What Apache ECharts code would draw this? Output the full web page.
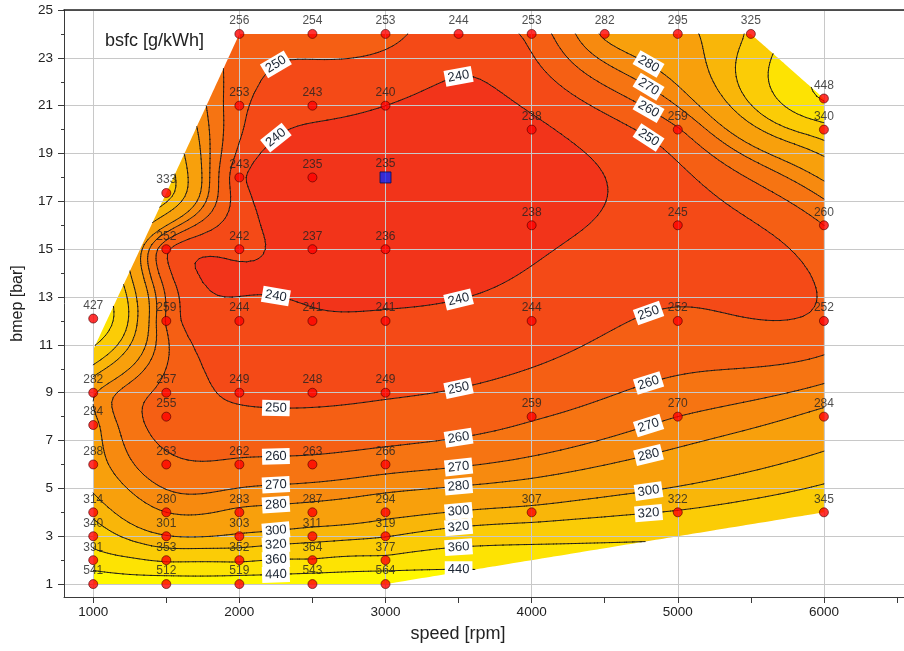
<!DOCTYPE html>
<html><head><meta charset="utf-8">
<script src="https://cdn.jsdelivr.net/npm/echarts@6/dist/echarts.min.js"></script>
<style>html,body{margin:0;padding:0;background:#fff}#c{width:904px;height:651px}</style>
</head><body><div id="c"></div>
<script>
// ---- measured points ----
const speed = [2000,2500,3000,3500,4000,4500,5000,5500, 6000,6000,
  2000,2500,3000,4000,5000, 1500,2000,2500,3000, 4000,5000,6000,
  1500,2000,2500,3000, 1000,1500,2000,2500,3000,4000,5000,6000,
  1000,1500,2000,2500,3000, 1000,1500,4000,5000,6000,
  1000,1500,2000,2500,3000, 1000,1500,2000,2500,3000,4000,5000,6000,
  1000,1500,2000,2500,3000, 1000,1500,2000,2500,3000, 1000,1500,2000,2500,3000];
const bmep = [24,24,24,24,24,24,24,24, 21.3,20,
  21,21,21,20,20, 17.35,18,18,18, 16,16,16,
  15,15,15,15, 12.1,12,12,12,12,12,12,12,
  9,9,9,9,9, 7.65,8,8,8,8,
  6,6,6,6,6, 4,4,4,4,4,4,4,4,
  3,3,3,3,3, 2,2,2,2,2, 1,1,1,1,1];
const bsfc = [256,254,253,244,253,282,295,325, 448,340,
  253,243,240,238,259, 333,243,235,235, 238,245,260,
  252,242,237,236, 427,259,244,241,241,244,252,252,
  282,257,249,248,249, 284,255,259,270,284,
  288,263,262,263,266, 314,280,283,287,294,307,322,345,
  340,301,303,311,319, 391,353,352,364,377, 541,512,519,543,564];
const selectedPoint = [3000, 18];

// ---- contour levels / band colours ----
const levels = [240,250,260,270,280,300,320,360,440];
const bandColors = ['#F2341A','#F44A17','#F55F14','#F67412','#F78A0F','#F8A00C','#F9B609','#FBCC06','#FDE303','#FFF800'];
// outline of the measured region
const domainSpeed = [1000,3000,6000,6000,5500,2000,1500,1000];
const domainBmep  = [1,1,4,21.3,24,24,17.35,10.8];
const labelSpeeds = [2250,3500,4800];

// ---- axes ----
const xTicks = [1000,2000,3000,4000,5000,6000];
const xMinorTicks = [1500,2500,3500,4500,5500,6500];
const yTicks = [1,3,5,7,9,11,13,15,17,19,21,23,25];
const yMinorTicks = [2,4,6,8,10,12,14,16,18,20,22,24];

const FONT = 'Liberation Sans, Arial, sans-serif';
const SY = 4, LAMBDA = 0.0005;

// thin-plate spline surface through the measured points (in fuel-efficiency space 1/bsfc)
function makeField(){
  const n = speed.length, N = n + 3;
  const U = speed.map(s => s/1000), V = bmep.map(b => b/SY), F = bsfc.map(b => 1000/b);
  const phi = r2 => r2 > 1e-12 ? 0.5*r2*Math.log(r2) : 0;
  const M = [];
  for (let i = 0; i < N; i++) M.push(new Float64Array(N+1));
  for (let i = 0; i < n; i++) {
    for (let j = 0; j < n; j++) M[i][j] = phi((U[i]-U[j])**2 + (V[i]-V[j])**2) + (i===j ? LAMBDA : 0);
    M[i][n] = 1; M[i][n+1] = U[i]; M[i][n+2] = V[i];
    M[n][i] = 1; M[n+1][i] = U[i]; M[n+2][i] = V[i];
    M[i][N] = F[i];
  }
  for (let c = 0; c < N; c++) {
    let p = c;
    for (let r = c+1; r < N; r++) if (Math.abs(M[r][c]) > Math.abs(M[p][c])) p = r;
    const t = M[c]; M[c] = M[p]; M[p] = t;
    for (let r = 0; r < N; r++) {
      if (r === c) continue;
      const f = M[r][c] / M[c][c];
      if (f === 0) continue;
      for (let k = c; k <= N; k++) M[r][k] -= f * M[c][k];
    }
  }
  const coef = M.map((row, i) => row[N] / row[i]);
  return (x, y) => {
    const u = x/1000, v = y/SY;
    let s = coef[n] + coef[n+1]*u + coef[n+2]*v;
    for (let i = 0; i < n; i++) s += coef[i] * phi((u-U[i])**2 + (v-V[i])**2);
    return 1000 / s;
  };
}
const field = makeField();

function bandOf(v){ let k = 0; while (k < levels.length && v >= levels[k]) k++; return k; }
function clip(poly, fn){
  const out = [];
  for (let i = 0; i < poly.length; i++) {
    const a = poly[i], b = poly[(i+1) % poly.length];
    const da = fn(a), db = fn(b);
    if (da >= 0) out.push(a);
    if ((da >= 0) !== (db >= 0)) {
      const t = da / (da - db);
      out.push([a[0]+(b[0]-a[0])*t, a[1]+(b[1]-a[1])*t, a[2]+(b[2]-a[2])*t]);
    }
  }
  return out;
}
const r2 = v => Math.round(v*100)/100;

let geomCache = null;
function geometry(api){
  const p0 = api.coord([1000, 1]), p1 = api.coord([6000, 24]);
  const key = p0.join(',') + p1.join(',');
  if (geomCache && geomCache.key === key) return geomCache;
  const sx = (p1[0]-p0[0]) / 5000, sy = (p1[1]-p0[1]) / 23;
  const toPx = (x, y) => [p0[0] + (x-1000)*sx, p0[1] + (y-1)*sy];
  const dom = domainSpeed.map((s, i) => toPx(s, domainBmep[i]));
  const pieces = [[0,1,2,3,4,5,6],[6,7,0]].map(idx => idx.map(i => dom[i]));
  const pieceFns = pieces.map(poly => {
    let area = 0;
    for (let k = 0; k < poly.length; k++) { const p = poly[k], q = poly[(k+1)%poly.length]; area += p[0]*q[1] - q[0]*p[1]; }
    const sg = area > 0 ? 1 : -1;
    return poly.map((p, k) => { const q = poly[(k+1)%poly.length];
      return pt => sg*((q[0]-p[0])*(pt[1]-p[1]) - (q[1]-p[1])*(pt[0]-p[0])); });
  });
  const insidePiece = (pt, fns) => fns.every(f => f(pt) >= -1e-6);
  const insideDomain = pt => pieceFns.some(fns => insidePiece(pt, fns));

  const XS = 50, YS = 0.2, nx = 101, ny = 116;
  const nodes = [];
  for (let j = 0; j < ny; j++) {
    const row = [];
    for (let i = 0; i < nx; i++) {
      const x = 1000 + i*XS, y = 1 + j*YS;
      const p = toPx(x, y);
      row.push([p[0], p[1], field(x, y)]);
    }
    nodes.push(row);
  }
  const bandParts = bandColors.map(() => []);
  const lineParts = [];
  const polyStr = P => 'M' + P.map(p => r2(p[0]) + ' ' + r2(p[1])).join('L') + 'Z';
  const emitPoly = P => {
    let mn = Infinity, mx = -Infinity;
    for (const p of P) { if (p[2] < mn) mn = p[2]; if (p[2] > mx) mx = p[2]; }
    const k0 = bandOf(mn), k1 = bandOf(mx);
    if (k0 === k1) { bandParts[k0].push(polyStr(P)); return; }
    for (let k = k0; k <= k1; k++) {
      let Q = P;
      if (k > 0) { const L = levels[k-1]; Q = clip(Q, p => p[2] - L); }
      if (k < levels.length && Q.length >= 3) { const L = levels[k]; Q = clip(Q, p => L - p[2] - 1e-9); }
      if (Q.length >= 3) bandParts[k].push(polyStr(Q));
    }
    for (const L of levels) {
      if (L <= mn || L >= mx) continue;
      const pts = [];
      for (let i = 0; i < P.length; i++) {
        const a = P[i], b = P[(i+1)%P.length];
        if ((a[2] - L) * (b[2] - L) < 0) {
          const t = (L - a[2]) / (b[2] - a[2]);
          pts.push([a[0]+(b[0]-a[0])*t, a[1]+(b[1]-a[1])*t]);
        }
      }
      if (pts.length >= 2) lineParts.push('M' + r2(pts[0][0]) + ' ' + r2(pts[0][1]) + 'L' + r2(pts[1][0]) + ' ' + r2(pts[1][1]));
    }
  };
  for (let j = 0; j < ny-1; j++) {
    let runStart = -1, runBand = -1;
    const flush = (iEnd) => {
      if (runStart < 0) return;
      const a = nodes[j][runStart], c = nodes[j+1][iEnd];
      bandParts[runBand].push('M' + r2(a[0]) + ' ' + r2(a[1]) + 'L' + r2(c[0]) + ' ' + r2(a[1]) + 'L' + r2(c[0]) + ' ' + r2(c[1]) + 'L' + r2(a[0]) + ' ' + r2(c[1]) + 'Z');
      runStart = -1;
    };
    for (let i = 0; i < nx-1; i++) {
      const a = nodes[j][i], b = nodes[j][i+1], c = nodes[j+1][i+1], d = nodes[j+1][i];
      const quad = [a, b, c, d];
      const ka = bandOf(a[2]);
      let uniform = quad.every(p => bandOf(p[2]) === ka);
      let inside = pieceFns.some(fns => quad.every(p => insidePiece(p, fns)));
      if (uniform && inside) {
        if (runStart >= 0 && runBand === ka) continue;
        flush(i); runStart = i; runBand = ka; continue;
      }
      flush(i);
      for (const tri of [[a, b, c], [a, c, d]]) {
        for (const fns of pieceFns) {
          let P = tri;
          for (const f of fns) { P = clip(P, f); if (P.length < 3) break; }
          if (P.length >= 3) emitPoly(P);
        }
      }
    }
    flush(nx-1);
  }
  // contour labels
  const labels = [];
  for (const s0 of labelSpeeds) {
    let prevY = 1.02, prevV = field(s0, prevY);
    for (let y = 1.03; y <= 23.98; y += 0.01) {
      const v = field(s0, y);
      for (const L of levels) {
        if ((prevV - L) * (v - L) < 0) {
          const yc = prevY + (y - prevY) * (L - prevV) / (v - prevV);
          const pp = toPx(s0, yc);
          if (!insideDomain(pp)) continue;
          const dfx = (field(s0+5, yc) - field(s0-5, yc)) / 10;
          const dfy = (field(s0, yc+0.01) - field(s0, yc-0.01)) / 0.02;
          const gx = dfx / sx, gy = dfy / sy;
          let th = Math.atan2(gx, -gy);
          while (th > Math.PI/2) th -= Math.PI;
          while (th <= -Math.PI/2) th += Math.PI;
          labels.push({x: pp[0], y: pp[1], rot: -th, text: String(L)});
        }
      }
      prevY = y; prevV = v;
    }
  }
  geomCache = {key, bands: bandParts.map(p => p.join('')), lines: lineParts.join(''), labels};
  return geomCache;
}

const chart = echarts.init(document.getElementById('c'), null, {renderer: 'canvas'});
const selIdx = speed.findIndex((s, i) => s === selectedPoint[0] && bmep[i] === selectedPoint[1]);
const scatterData = speed.map((s, i) => {
  const item = {value: [s, bmep[i], bsfc[i]]};
  if (i === selIdx) {
    item.symbol = 'rect'; item.symbolSize = 11;
    item.itemStyle = {color: '#0a28ff', borderColor: '#001050', borderWidth: 1};
  }
  return item;
});
const axMin = 800, axMax = 6548, ayMin = 0.46, ayMax = 25;
const axisColor = '#3a3a3a';
const option = {
  animation: false,
  backgroundColor: '#fff',
  title: {text: 'bsfc [g/kWh]', left: 100, top: 27, textStyle: {fontSize: 18, fontWeight: 'normal', color: '#222', fontFamily: FONT}},
  grid: {left: 64, right: 0, top: 10, bottom: 54, containLabel: false},
  xAxis: [
    {type: 'value', min: axMin, max: axMax, position: 'bottom', z: 3,
     axisLine: {show: true, onZero: false, lineStyle: {color: axisColor}},
     axisTick: {show: true, customValues: xTicks, length: 6, lineStyle: {color: axisColor}},
     axisLabel: {customValues: xTicks, fontSize: 13.5, color: '#222', margin: 8, fontFamily: FONT, formatter: v => String(v)},
     splitLine: {show: true, lineStyle: {color: '#c8c8c8', width: 1}},
     name: 'speed [rpm]', nameLocation: 'middle', nameGap: 28,
     nameTextStyle: {fontSize: 18, color: '#222', fontFamily: FONT, padding: [0, 52, 0, 0]}},
    {type: 'value', min: axMin, max: axMax, position: 'bottom', z: 3,
     axisLine: {show: false, onZero: false}, axisTick: {show: true, customValues: xMinorTicks, length: 6, lineStyle: {color: axisColor}},
     axisLabel: {show: false}, splitLine: {show: false}},
    {type: 'value', min: axMin, max: axMax, position: 'top', z: 4,
     axisLine: {show: true, onZero: false, lineStyle: {color: '#222', width: 1.5}}, axisTick: {show: false},
     axisLabel: {show: false}, splitLine: {show: false}}
  ],
  yAxis: [
    {type: 'value', min: ayMin, max: ayMax, position: 'left', z: 3,
     axisLine: {show: true, onZero: false, lineStyle: {color: axisColor}},
     axisTick: {show: true, customValues: yTicks, length: 6, lineStyle: {color: axisColor}},
     axisLabel: {customValues: yTicks, fontSize: 13.5, color: '#222', margin: 11, fontFamily: FONT, formatter: v => String(v)},
     splitLine: {show: true, lineStyle: {color: '#c8c8c8', width: 1}},
     name: 'bmep [bar]', nameLocation: 'middle', nameGap: 38, nameRotate: 90,
     nameTextStyle: {fontSize: 16, color: '#222', fontFamily: FONT}},
    {type: 'value', min: ayMin, max: ayMax, position: 'left', z: 3,
     axisLine: {show: false, onZero: false}, axisTick: {show: true, customValues: yMinorTicks, length: 3, lineStyle: {color: axisColor}},
     axisLabel: {show: false}, splitLine: {show: false}}
  ],
  series: [
    {type: 'custom', xAxisIndex: 0, yAxisIndex: 0, z: 1, silent: true, clip: false,
     data: [[1000, 1]],
     renderItem: (params, api) => {
       const g = geometry(api);
       return {type: 'group', children: g.bands.map((d, k) => ({
         type: 'path', shape: {pathData: d || 'M0 0Z'}, style: {fill: bandColors[k], stroke: null}}))};
     }},
    {type: 'custom', xAxisIndex: 0, yAxisIndex: 0, z: 5, silent: true, clip: false,
     data: [[1000, 1]],
     renderItem: (params, api) => {
       const g = geometry(api);
       const children = [{type: 'path', shape: {pathData: g.lines || 'M0 0Z'},
         style: {fill: null, stroke: '#111', lineWidth: 0.9, lineCap: 'round', lineJoin: 'round'}}];
       g.labels.forEach(l => children.push({type: 'text', x: l.x, y: l.y, rotation: l.rot,
         style: {text: l.text, fill: '#1b2533', font: '13px ' + FONT, align: 'center', verticalAlign: 'middle',
                 backgroundColor: '#ffffff', padding: [2, 3, 1, 3]}}));
       return {type: 'group', children};
     }},
    {type: 'scatter', xAxisIndex: 0, yAxisIndex: 0, z: 6, data: scatterData,
     symbol: 'circle', symbolSize: 9,
     itemStyle: {color: '#ff0000', borderColor: '#4d0000', borderWidth: 0.8},
     label: {show: true, position: 'top', distance: 2, formatter: p => p.value[2],
             fontSize: 12, color: '#222', fontFamily: FONT}}
  ]
};
chart.setOption(option);
</script></body></html>
